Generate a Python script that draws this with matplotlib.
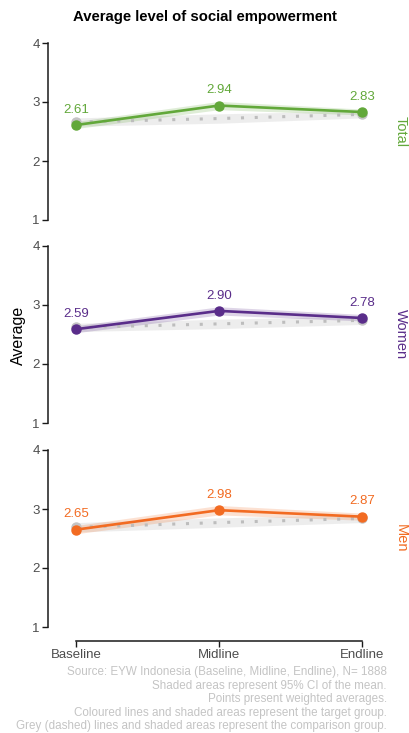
import matplotlib
matplotlib.use("Agg")
import matplotlib.pyplot as plt

plt.rcParams['font.family'] = ['Liberation Sans', 'DejaVu Sans']

# survey rounds
rounds = ["Baseline", "Midline", "Endline"]
xpos = [1, 2, 3]

groups = ["Total", "Women", "Men"]
colours = {"Total": "#62a83a", "Women": "#5a2d8a", "Men": "#f26b22"}

# target group means and 95% CI
target_mean = {"Total": [2.61, 2.94, 2.83], "Women": [2.59, 2.90, 2.78], "Men": [2.65, 2.98, 2.87]}
target_lo = {"Total": [2.55, 2.87, 2.78], "Women": [2.53, 2.83, 2.73], "Men": [2.58, 2.90, 2.81]}
target_hi = {"Total": [2.67, 3.01, 2.88], "Women": [2.65, 2.97, 2.84], "Men": [2.72, 3.06, 2.93]}

# comparison group means and 95% CI
comp_mean = {"Total": [2.66, 2.72, 2.79], "Women": [2.62, 2.68, 2.74], "Men": [2.69, 2.77, 2.84]}
comp_lo = {"Total": [2.59, 2.64, 2.73], "Women": [2.55, 2.60, 2.67], "Men": [2.61, 2.69, 2.77]}
comp_hi = {"Total": [2.73, 2.80, 2.85], "Women": [2.69, 2.76, 2.81], "Men": [2.77, 2.85, 2.91]}

yticks = [1, 2, 3, 4]

caption = ("Source: EYW Indonesia (Baseline, Midline, Endline), N= 1888\n"
           "Shaded areas represent 95% CI of the mean.\n"
           "Points present weighted averages.\n"
           "Coloured lines and shaded areas represent the target group.\n"
           "Grey (dashed) lines and shaded areas represent the comparison group.")

W, H = 410, 733
fig = plt.figure(figsize=(W / 100, H / 100), dpi=100)

left_px, right_px = 48, 390
tops = [43, 246, 450]
panel_h = 177

for i, g in enumerate(groups):
    top = tops[i]
    ax = fig.add_axes([left_px / W, 1 - (top + panel_h) / H,
                       (right_px - left_px) / W, panel_h / H])
    col = colours[g]

    # comparison group
    ax.fill_between(xpos, comp_lo[g], comp_hi[g], color="#d9d9d9", alpha=0.45, lw=0)
    ax.plot(xpos, comp_mean[g], color="#bdbdbd", lw=2.2, ls=(0, (1, 3.5)),
            dash_capstyle="butt", zorder=2)
    ax.plot(xpos, comp_mean[g], "o", color="#c4c4c4", ms=6.5, markevery=[0, 2], zorder=2)

    # target group
    ax.fill_between(xpos, target_lo[g], target_hi[g], color=col, alpha=0.2, lw=0)
    ax.plot(xpos, target_mean[g], color=col, lw=1.9, marker="o", ms=6.5, zorder=3)

    for x, v in zip(xpos, target_mean[g]):
        ax.annotate(f"{v:.2f}", (x, v), xytext=(0, 11), textcoords="offset points",
                    ha="center", va="center", color=col, fontsize=9.5)

    ax.set_xlim(0.804, 3.196)
    ax.set_ylim(1, 4)
    ax.set_yticks(yticks)
    ax.set_yticklabels([str(t) for t in yticks])
    ax.tick_params(axis="y", length=4, width=1, colors="#1a1a1a", labelcolor="#4d4d4d",
                   labelsize=9.5, pad=2)
    ax.spines["left"].set_linewidth(1.1)
    ax.spines["left"].set_color("#1a1a1a")
    for s in ["top", "right"]:
        ax.spines[s].set_visible(False)

    if i == 2:
        ax.spines["bottom"].set_position(("outward", 10))
        ax.spines["bottom"].set_bounds(1, 3)
        ax.spines["bottom"].set_linewidth(1.1)
        ax.spines["bottom"].set_color("#1a1a1a")
        ax.set_xticks(xpos)
        ax.set_xticklabels(rounds)
        ax.tick_params(axis="x", length=4, width=1, colors="#1a1a1a", labelcolor="#4d4d4d",
                       labelsize=9.5, pad=2)
    else:
        ax.spines["bottom"].set_visible(False)
        ax.set_xticks([])

    ax.set_facecolor("none")
    fig.text(401 / W, 1 - (top + panel_h / 2) / H, g, rotation=-90, color=col,
             fontsize=10.5, ha="center", va="center")

fig.text(205 / W, 1 - 17 / H, "Average level of social empowerment", fontweight="bold",
         fontsize=10.7, ha="center", va="center")
fig.text(18 / W, 1 - 335 / H, "Average", rotation=90, fontsize=11.5,
         ha="center", va="center")
fig.text(387 / W, 1 - 666 / H, caption, ha="right", va="top", color="#c4c4c4",
         fontsize=8.4, linespacing=1.17)

fig.savefig("out.png", dpi=100)
